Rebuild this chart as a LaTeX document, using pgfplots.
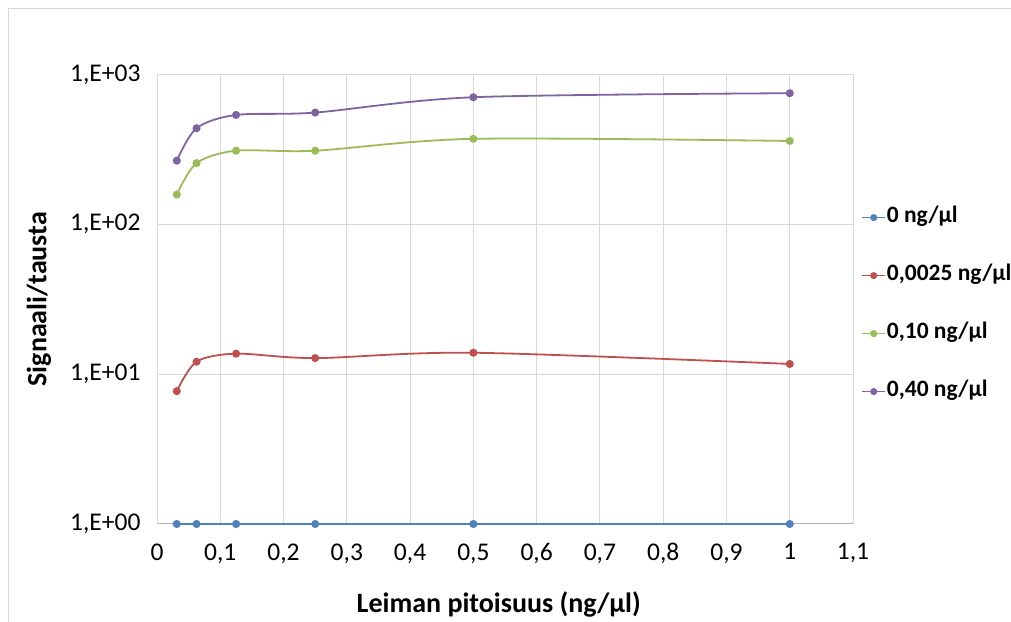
\documentclass[border=0pt]{standalone}
\usepackage{fontspec}
\setmainfont{Carlito}
\usepackage{pgfplots}
\pgfplotsset{compat=1.18}

\definecolor{sblue}{HTML}{4F81BD}
\definecolor{sred}{HTML}{C0504D}
\definecolor{sgreen}{HTML}{9BBB59}
\definecolor{spurple}{HTML}{8064A2}
\definecolor{gridc}{HTML}{D9D9D9}
\definecolor{framec}{HTML}{D9D9D9}

\begin{document}
\begin{tikzpicture}[x=1bp,y=1bp]
\useasboundingbox (0,0) rectangle (1011,622);
% chart frame (top and left edges visible)
\draw[framec, line width=1.2bp] (8.5,0) -- (8.5,613.5) -- (1011,613.5);

\begin{axis}[
  at={(157bp,98bp)}, anchor=south west,
  scale only axis, width=696bp, height=449.5bp,
  ymode=log, log basis y=10,
  xmin=0, xmax=1.1, ymin=1, ymax=1000,
  xtick={0,0.1,0.2,0.3,0.4,0.5,0.6,0.7,0.8,0.9,1,1.1},
  xticklabels={0,{0,1},{0,2},{0,3},{0,4},{0,5},{0,6},{0,7},{0,8},{0,9},1,{1,1}},
  ytick={1,10,100,1000},
  yticklabels={{1,E+00},{1,E+01},{1,E+02},{1,E+03}},
  minor ytick={}, yminorgrids=false,
  major tick length=0pt,
  /pgf/number format/assume math mode=true,
  ticklabel style={font=\fontsize{25.5bp}{30bp}\selectfont, text=black},
  xticklabel style={yshift=-16bp},
  yticklabel style={xshift=-13bp},
  xmajorgrids, ymajorgrids,
  grid style={gridc, line width=1bp},
  axis line style={gridc, line width=1bp},
  axis x line*=bottom,
  x axis line style={draw=gridc!80!black},
  xlabel={\textbf{Leiman pitoisuus (ng/µl)}},
  ylabel={\textbf{Signaali/tausta}},
  label style={font=\fontsize{28bp}{32bp}\selectfont},
  xlabel style={at={(rel axis cs:0.491,0)}, anchor=north, yshift=-64bp},
  ylabel style={at={(rel axis cs:-0.147,0.5)}, anchor=south, rotate=0},
  clip=false,
  every axis plot/.append style={line width=1.8bp, smooth, mark=*, mark size=3.1bp},
  legend cell align=left,
  legend style={
    at={(1.012,0.488)}, anchor=west, draw=none, fill=none,
    font=\bfseries\fontsize{23.5bp}{28bp}\selectfont,
    row sep=38bp, inner sep=0pt,
    nodes={inner sep=1bp, text height=14bp, text depth=4bp},
  },
  legend image code/.code={
    \draw[#1, line width=1.3bp, mark=none] (0bp,0bp) -- (23bp,0bp);
    \fill[#1] (11.5bp,0bp) circle (2.6bp);
  },
]
\addplot[sblue, mark options={fill=sblue}] coordinates {
  (0.03125,1) (0.0625,1) (0.125,1) (0.25,1) (0.5,1) (1,1)};
\addlegendentry{0 ng/µl}
\addplot[sred, mark options={fill=sred}] coordinates {
  (0.03125,7.7) (0.0625,12.1) (0.125,13.7) (0.25,12.8) (0.5,13.9) (1,11.7)};
\addlegendentry{0,0025 ng/µl}
\addplot[sgreen, mark options={fill=sgreen}] coordinates {
  (0.03125,158) (0.0625,256) (0.125,310) (0.25,310) (0.5,372) (1,360)};
\addlegendentry{0,10 ng/µl}
\addplot[spurple, mark options={fill=spurple}] coordinates {
  (0.03125,266) (0.0625,438) (0.125,537) (0.25,557) (0.5,705) (1,750)};
\addlegendentry{0,40 ng/µl}
\end{axis}
\end{tikzpicture}
\end{document}
